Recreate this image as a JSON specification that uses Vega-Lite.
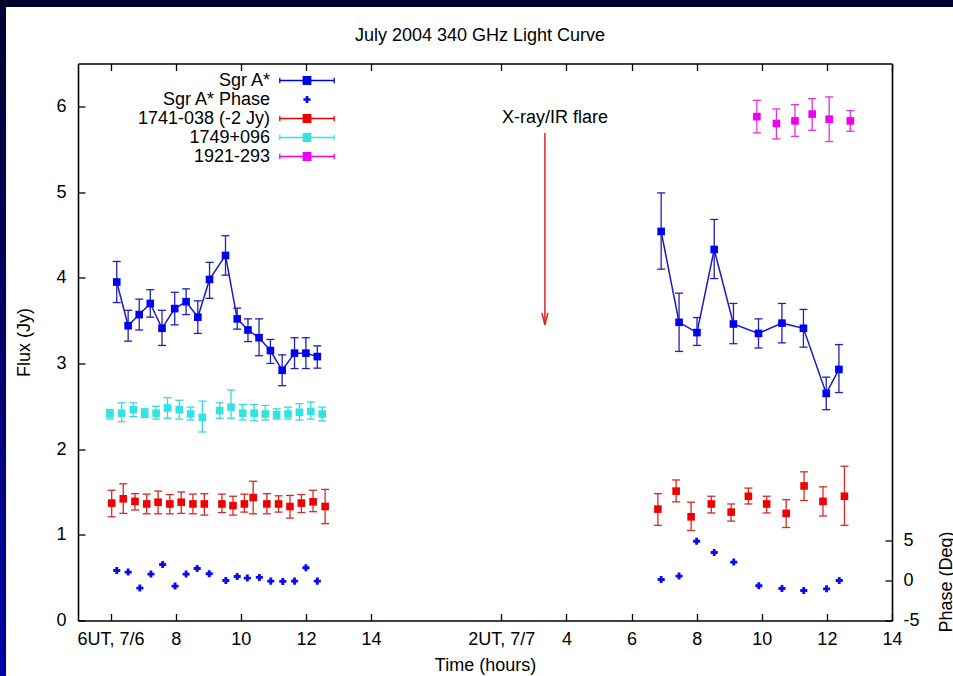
{
  "$schema": "https://vega.github.io/schema/vega-lite/v6.json",
  "width": 814,
  "height": 557,
  "autosize": {"type": "none"},
  "padding": {"left": 78, "top": 63.5, "right": 61, "bottom": 55.5},
  "background": "white",
  "title": {"text": "July 2004 340 GHz Light Curve", "font": "Liberation Sans", "fontSize": 18, "fontWeight": "normal", "color": "black", "anchor": "middle", "frame": "group", "baseline": "alphabetic", "offset": -64, "dx": -5, "zindex": 1},
  "datasets": {
    "flux": [
      {"series": "Sgr A*", "day": 1, "t": 6.19, "flux": 3.95, "lo": 3.71, "hi": 4.19},
      {"series": "Sgr A*", "day": 1, "t": 6.54, "flux": 3.44, "lo": 3.26, "hi": 3.62},
      {"series": "Sgr A*", "day": 1, "t": 6.88, "flux": 3.57, "lo": 3.39, "hi": 3.75},
      {"series": "Sgr A*", "day": 1, "t": 7.22, "flux": 3.70, "lo": 3.54, "hi": 3.86},
      {"series": "Sgr A*", "day": 1, "t": 7.58, "flux": 3.41, "lo": 3.21, "hi": 3.62},
      {"series": "Sgr A*", "day": 1, "t": 7.97, "flux": 3.64, "lo": 3.45, "hi": 3.83},
      {"series": "Sgr A*", "day": 1, "t": 8.32, "flux": 3.72, "lo": 3.57, "hi": 3.87},
      {"series": "Sgr A*", "day": 1, "t": 8.68, "flux": 3.54, "lo": 3.35, "hi": 3.73},
      {"series": "Sgr A*", "day": 1, "t": 9.04, "flux": 3.98, "lo": 3.76, "hi": 4.18},
      {"series": "Sgr A*", "day": 1, "t": 9.53, "flux": 4.26, "lo": 4.03, "hi": 4.49},
      {"series": "Sgr A*", "day": 1, "t": 9.89, "flux": 3.52, "lo": 3.40, "hi": 3.645},
      {"series": "Sgr A*", "day": 1, "t": 10.22, "flux": 3.39, "lo": 3.255, "hi": 3.52},
      {"series": "Sgr A*", "day": 1, "t": 10.56, "flux": 3.30, "lo": 3.09, "hi": 3.52},
      {"series": "Sgr A*", "day": 1, "t": 10.91, "flux": 3.15, "lo": 3.00, "hi": 3.28},
      {"series": "Sgr A*", "day": 1, "t": 11.27, "flux": 2.92, "lo": 2.74, "hi": 3.10},
      {"series": "Sgr A*", "day": 1, "t": 11.65, "flux": 3.12, "lo": 2.94, "hi": 3.30},
      {"series": "Sgr A*", "day": 1, "t": 12.0, "flux": 3.12, "lo": 2.94, "hi": 3.30},
      {"series": "Sgr A*", "day": 1, "t": 12.35, "flux": 3.08, "lo": 2.945, "hi": 3.205},
      {"series": "Sgr A*", "day": 2, "t": 22.91, "flux": 4.54, "lo": 4.10, "hi": 4.99},
      {"series": "Sgr A*", "day": 2, "t": 23.46, "flux": 3.48, "lo": 3.14, "hi": 3.82},
      {"series": "Sgr A*", "day": 2, "t": 24.01, "flux": 3.36, "lo": 3.21, "hi": 3.535},
      {"series": "Sgr A*", "day": 2, "t": 24.54, "flux": 4.33, "lo": 3.99, "hi": 4.68},
      {"series": "Sgr A*", "day": 2, "t": 25.13, "flux": 3.46, "lo": 3.23, "hi": 3.70},
      {"series": "Sgr A*", "day": 2, "t": 25.90, "flux": 3.35, "lo": 3.18, "hi": 3.52},
      {"series": "Sgr A*", "day": 2, "t": 26.62, "flux": 3.47, "lo": 3.24, "hi": 3.70},
      {"series": "Sgr A*", "day": 2, "t": 27.28, "flux": 3.41, "lo": 3.19, "hi": 3.63},
      {"series": "Sgr A*", "day": 2, "t": 27.98, "flux": 2.65, "lo": 2.46, "hi": 2.84},
      {"series": "Sgr A*", "day": 2, "t": 28.37, "flux": 2.93, "lo": 2.66, "hi": 3.22},
      {"series": "1741-038 (-2 Jy)", "day": 1, "t": 6.035, "flux": 1.37, "lo": 1.21, "hi": 1.52},
      {"series": "1741-038 (-2 Jy)", "day": 1, "t": 6.39, "flux": 1.42, "lo": 1.25, "hi": 1.595},
      {"series": "1741-038 (-2 Jy)", "day": 1, "t": 6.75, "flux": 1.39, "lo": 1.29, "hi": 1.48},
      {"series": "1741-038 (-2 Jy)", "day": 1, "t": 7.11, "flux": 1.36, "lo": 1.245, "hi": 1.475},
      {"series": "1741-038 (-2 Jy)", "day": 1, "t": 7.46, "flux": 1.38, "lo": 1.245, "hi": 1.51},
      {"series": "1741-038 (-2 Jy)", "day": 1, "t": 7.82, "flux": 1.36, "lo": 1.245, "hi": 1.47},
      {"series": "1741-038 (-2 Jy)", "day": 1, "t": 8.17, "flux": 1.38, "lo": 1.25, "hi": 1.50},
      {"series": "1741-038 (-2 Jy)", "day": 1, "t": 8.53, "flux": 1.36, "lo": 1.245, "hi": 1.475},
      {"series": "1741-038 (-2 Jy)", "day": 1, "t": 8.88, "flux": 1.36, "lo": 1.23, "hi": 1.48},
      {"series": "1741-038 (-2 Jy)", "day": 1, "t": 9.42, "flux": 1.36, "lo": 1.26, "hi": 1.475},
      {"series": "1741-038 (-2 Jy)", "day": 1, "t": 9.76, "flux": 1.34, "lo": 1.23, "hi": 1.45},
      {"series": "1741-038 (-2 Jy)", "day": 1, "t": 10.11, "flux": 1.36, "lo": 1.265, "hi": 1.475},
      {"series": "1741-038 (-2 Jy)", "day": 1, "t": 10.38, "flux": 1.435, "lo": 1.245, "hi": 1.625},
      {"series": "1741-038 (-2 Jy)", "day": 1, "t": 10.80, "flux": 1.36, "lo": 1.245, "hi": 1.48},
      {"series": "1741-038 (-2 Jy)", "day": 1, "t": 11.16, "flux": 1.36, "lo": 1.265, "hi": 1.455},
      {"series": "1741-038 (-2 Jy)", "day": 1, "t": 11.51, "flux": 1.33, "lo": 1.195, "hi": 1.46},
      {"series": "1741-038 (-2 Jy)", "day": 1, "t": 11.86, "flux": 1.37, "lo": 1.26, "hi": 1.47},
      {"series": "1741-038 (-2 Jy)", "day": 1, "t": 12.22, "flux": 1.385, "lo": 1.27, "hi": 1.52},
      {"series": "1741-038 (-2 Jy)", "day": 1, "t": 12.59, "flux": 1.33, "lo": 1.13, "hi": 1.53},
      {"series": "1741-038 (-2 Jy)", "day": 2, "t": 22.81, "flux": 1.30, "lo": 1.11, "hi": 1.48},
      {"series": "1741-038 (-2 Jy)", "day": 2, "t": 23.37, "flux": 1.51, "lo": 1.385, "hi": 1.64},
      {"series": "1741-038 (-2 Jy)", "day": 2, "t": 23.83, "flux": 1.21, "lo": 1.05, "hi": 1.38},
      {"series": "1741-038 (-2 Jy)", "day": 2, "t": 24.45, "flux": 1.36, "lo": 1.255, "hi": 1.45},
      {"series": "1741-038 (-2 Jy)", "day": 2, "t": 25.06, "flux": 1.265, "lo": 1.16, "hi": 1.36},
      {"series": "1741-038 (-2 Jy)", "day": 2, "t": 25.59, "flux": 1.45, "lo": 1.36, "hi": 1.545},
      {"series": "1741-038 (-2 Jy)", "day": 2, "t": 26.15, "flux": 1.36, "lo": 1.255, "hi": 1.45},
      {"series": "1741-038 (-2 Jy)", "day": 2, "t": 26.75, "flux": 1.25, "lo": 1.085, "hi": 1.41},
      {"series": "1741-038 (-2 Jy)", "day": 2, "t": 27.30, "flux": 1.57, "lo": 1.40, "hi": 1.735},
      {"series": "1741-038 (-2 Jy)", "day": 2, "t": 27.88, "flux": 1.39, "lo": 1.22, "hi": 1.56},
      {"series": "1741-038 (-2 Jy)", "day": 2, "t": 28.54, "flux": 1.45, "lo": 1.11, "hi": 1.80},
      {"series": "1749+096", "day": 1, "t": 5.98, "flux": 2.41, "lo": 2.35, "hi": 2.46},
      {"series": "1749+096", "day": 1, "t": 6.34, "flux": 2.42, "lo": 2.32, "hi": 2.54},
      {"series": "1749+096", "day": 1, "t": 6.70, "flux": 2.46, "lo": 2.38, "hi": 2.54},
      {"series": "1749+096", "day": 1, "t": 7.05, "flux": 2.42, "lo": 2.37, "hi": 2.47},
      {"series": "1749+096", "day": 1, "t": 7.40, "flux": 2.42, "lo": 2.35, "hi": 2.50},
      {"series": "1749+096", "day": 1, "t": 7.75, "flux": 2.48, "lo": 2.36, "hi": 2.60},
      {"series": "1749+096", "day": 1, "t": 8.11, "flux": 2.46, "lo": 2.35, "hi": 2.57},
      {"series": "1749+096", "day": 1, "t": 8.46, "flux": 2.41, "lo": 2.34, "hi": 2.49},
      {"series": "1749+096", "day": 1, "t": 8.82, "flux": 2.37, "lo": 2.20, "hi": 2.56},
      {"series": "1749+096", "day": 1, "t": 9.35, "flux": 2.45, "lo": 2.36, "hi": 2.54},
      {"series": "1749+096", "day": 1, "t": 9.70, "flux": 2.49, "lo": 2.36, "hi": 2.69},
      {"series": "1749+096", "day": 1, "t": 10.06, "flux": 2.42, "lo": 2.34, "hi": 2.52},
      {"series": "1749+096", "day": 1, "t": 10.41, "flux": 2.42, "lo": 2.33, "hi": 2.52},
      {"series": "1749+096", "day": 1, "t": 10.75, "flux": 2.41, "lo": 2.34, "hi": 2.51},
      {"series": "1749+096", "day": 1, "t": 11.10, "flux": 2.40, "lo": 2.35, "hi": 2.47},
      {"series": "1749+096", "day": 1, "t": 11.45, "flux": 2.41, "lo": 2.35, "hi": 2.49},
      {"series": "1749+096", "day": 1, "t": 11.80, "flux": 2.43, "lo": 2.34, "hi": 2.53},
      {"series": "1749+096", "day": 1, "t": 12.15, "flux": 2.44, "lo": 2.35, "hi": 2.55},
      {"series": "1749+096", "day": 1, "t": 12.50, "flux": 2.41, "lo": 2.33, "hi": 2.49},
      {"series": "1921-293", "day": 2, "t": 25.85, "flux": 5.88, "lo": 5.69, "hi": 6.07},
      {"series": "1921-293", "day": 2, "t": 26.45, "flux": 5.80, "lo": 5.62, "hi": 5.97},
      {"series": "1921-293", "day": 2, "t": 27.02, "flux": 5.83, "lo": 5.65, "hi": 6.02},
      {"series": "1921-293", "day": 2, "t": 27.55, "flux": 5.91, "lo": 5.72, "hi": 6.09},
      {"series": "1921-293", "day": 2, "t": 28.07, "flux": 5.85, "lo": 5.59, "hi": 6.11},
      {"series": "1921-293", "day": 2, "t": 28.72, "flux": 5.83, "lo": 5.71, "hi": 5.95}
    ],
    "phase": [
      {"series": "Sgr A* Phase", "t": 6.19, "phase": 1.25},
      {"series": "Sgr A* Phase", "t": 6.54, "phase": 1.05},
      {"series": "Sgr A* Phase", "t": 6.90, "phase": -0.95},
      {"series": "Sgr A* Phase", "t": 7.24, "phase": 0.8},
      {"series": "Sgr A* Phase", "t": 7.60, "phase": 2.0},
      {"series": "Sgr A* Phase", "t": 7.98, "phase": -0.7},
      {"series": "Sgr A* Phase", "t": 8.32, "phase": 0.8},
      {"series": "Sgr A* Phase", "t": 8.66, "phase": 1.5},
      {"series": "Sgr A* Phase", "t": 9.03, "phase": 0.84},
      {"series": "Sgr A* Phase", "t": 9.54, "phase": 0.0},
      {"series": "Sgr A* Phase", "t": 9.89, "phase": 0.5},
      {"series": "Sgr A* Phase", "t": 10.20, "phase": 0.3},
      {"series": "Sgr A* Phase", "t": 10.57, "phase": 0.38},
      {"series": "Sgr A* Phase", "t": 10.92, "phase": -0.08},
      {"series": "Sgr A* Phase", "t": 11.29, "phase": -0.12},
      {"series": "Sgr A* Phase", "t": 11.65, "phase": -0.08},
      {"series": "Sgr A* Phase", "t": 12.00, "phase": 1.59},
      {"series": "Sgr A* Phase", "t": 12.35, "phase": -0.08},
      {"series": "Sgr A* Phase", "t": 22.91, "phase": 0.12},
      {"series": "Sgr A* Phase", "t": 23.46, "phase": 0.55},
      {"series": "Sgr A* Phase", "t": 24.00, "phase": 4.9},
      {"series": "Sgr A* Phase", "t": 24.54, "phase": 3.5},
      {"series": "Sgr A* Phase", "t": 25.14, "phase": 2.3},
      {"series": "Sgr A* Phase", "t": 25.91, "phase": -0.66},
      {"series": "Sgr A* Phase", "t": 26.62, "phase": -1.0},
      {"series": "Sgr A* Phase", "t": 27.29, "phase": -1.25},
      {"series": "Sgr A* Phase", "t": 27.99, "phase": -1.04},
      {"series": "Sgr A* Phase", "t": 28.38, "phase": 0.0}
    ],
    "flare": [
      {"label": "X-ray/IR flare", "t": 19.34, "top": 5.69, "tip": 3.45, "tx": 19.65, "ty": 5.86}
    ]
  },
  "layer": [
    {
      "layer": [
        {
          "data": {"name": "flux"},
          "mark": {"type": "point", "filled": true, "opacity": 0},
          "encoding": {
            "x": {"field": "t", "type": "quantitative", "scale": {"domain": [5, 30], "nice": false, "zero": false}},
            "y": {"field": "flux", "type": "quantitative", "scale": {"domain": [0, 6.5], "nice": false, "zero": false}},
            "fill": {"field": "series", "type": "nominal",
              "scale": {"domain": ["Sgr A*", "Sgr A* Phase", "1741-038 (-2 Jy)", "1749+096", "1921-293"], "range": ["#0000f0", "#0a0af0", "#f00000", "#30e4e4", "#f000f0"]},
              "legend": {"title": null, "orient": "none", "legendX": 220, "legendY": 8, "padding": 0, "rowPadding": 1, "labelAlign": "right", "labelOffset": -46, "labelFont": "Liberation Sans", "labelFontSize": 18, "labelColor": "black", "labelLimit": 400, "symbolSize": 256, "symbolOpacity": 1, "symbolStrokeWidth": 0, "zindex": 1}},
            "shape": {"field": "series", "type": "nominal",
              "scale": {"domain": ["Sgr A*", "Sgr A* Phase", "1741-038 (-2 Jy)", "1749+096", "1921-293"],
                "range": [
                  "M-3.4,-0.08H3.4V0.08H-3.4ZM-3.48,-0.35H-3.32V0.35H-3.48ZM3.32,-0.35H3.48V0.35H3.32ZM-0.55,-0.55H0.55V0.55H-0.55Z",
                  "M-0.45,-0.17H-0.17V-0.45H0.17V-0.17H0.45V0.17H0.17V0.45H-0.17V0.17H-0.45Z",
                  "M-3.4,-0.08H3.4V0.08H-3.4ZM-3.48,-0.35H-3.32V0.35H-3.48ZM3.32,-0.35H3.48V0.35H3.32ZM-0.55,-0.55H0.55V0.55H-0.55Z",
                  "M-3.4,-0.08H3.4V0.08H-3.4ZM-3.48,-0.35H-3.32V0.35H-3.48ZM3.32,-0.35H3.48V0.35H3.32ZM-0.55,-0.55H0.55V0.55H-0.55Z",
                  "M-3.4,-0.08H3.4V0.08H-3.4ZM-3.48,-0.35H-3.32V0.35H-3.48ZM3.32,-0.35H3.48V0.35H3.32ZM-0.55,-0.55H0.55V0.55H-0.55Z"
                ]},
              "legend": {"title": null, "orient": "none", "legendX": 220, "legendY": 8, "padding": 0, "rowPadding": 1, "labelAlign": "right", "labelOffset": -46, "labelFont": "Liberation Sans", "labelFontSize": 18, "labelColor": "black", "labelLimit": 400, "symbolSize": 256, "symbolOpacity": 1, "symbolStrokeWidth": 0, "zindex": 1}}
          }
        },
        {
          "data": {"values": [{}]},
          "mark": {"type": "rect", "fill": "#00002e"},
          "encoding": {
            "x": {"datum": 2.5, "type": "quantitative"},
            "x2": {"datum": 32},
            "y": {"datum": 7.3, "type": "quantitative"},
            "y2": {"datum": 7.16}
          }
        },
        {
          "data": {"values": [{}]},
          "mark": {"type": "rect", "fill": {"x1": 0, "y1": 0, "x2": 0, "y2": 1, "gradient": "linear", "stops": [{"offset": 0, "color": "#00002e"}, {"offset": 1, "color": "#0000a8"}]}},
          "encoding": {
            "x": {"datum": 2.5, "type": "quantitative"},
            "x2": {"datum": 2.79},
            "y": {"datum": 7.3, "type": "quantitative"},
            "y2": {"datum": -0.7}
          }
        },
        {
          "data": {"name": "flux"},
          "mark": {"type": "rule", "strokeWidth": 1.3},
          "encoding": {
            "x": {"field": "t", "type": "quantitative"},
            "y": {"field": "lo", "type": "quantitative"},
            "y2": {"field": "hi"},
            "stroke": {"field": "series", "type": "nominal", "scale": {"domain": ["Sgr A*", "1741-038 (-2 Jy)", "1749+096", "1921-293"], "range": ["#2020b4", "#d82828", "#38d8d8", "#e030e0"]}, "legend": null}
          }
        },
        {
          "data": {"name": "flux"},
          "mark": {"type": "point", "shape": "stroke", "size": 64, "filled": false, "strokeWidth": 1.3, "opacity": 1},
          "encoding": {
            "x": {"field": "t", "type": "quantitative"},
            "y": {"field": "lo", "type": "quantitative"},
            "stroke": {"field": "series", "type": "nominal", "legend": null}
          }
        },
        {
          "data": {"name": "flux"},
          "mark": {"type": "point", "shape": "stroke", "size": 64, "filled": false, "strokeWidth": 1.3, "opacity": 1},
          "encoding": {
            "x": {"field": "t", "type": "quantitative"},
            "y": {"field": "hi", "type": "quantitative"},
            "stroke": {"field": "series", "type": "nominal", "legend": null}
          }
        },
        {
          "data": {"name": "flux"},
          "transform": [{"filter": "datum.series === 'Sgr A*'"}],
          "mark": {"type": "line", "color": "#1a1ac4", "strokeWidth": 1.5},
          "encoding": {
            "x": {"field": "t", "type": "quantitative"},
            "y": {"field": "flux", "type": "quantitative"},
            "detail": {"field": "day", "type": "nominal"}
          }
        },
        {
          "data": {"name": "flux"},
          "mark": {"type": "point", "shape": "square", "filled": true, "size": 58, "opacity": 1},
          "encoding": {
            "x": {"field": "t", "type": "quantitative",
              "axis": {"orient": "bottom", "zindex": 1, "values": [6, 8, 10, 12, 14, 18, 20, 22, 24, 26, 28, 30], "labelExpr": "datum.value == 6 ? '6UT, 7/6' : datum.value == 18 ? '2UT, 7/7' : (datum.value > 16 ? '' + (datum.value - 16) : '' + datum.value)", "title": "Time (hours)", "labelPadding": 17, "titlePadding": 8}},
            "y": {"field": "flux", "type": "quantitative",
              "axis": {"orient": "left", "zindex": 1, "values": [0, 1, 2, 3, 4, 5, 6], "labelExpr": "'' + datum.value", "title": "Flux (Jy)", "labelPadding": 19, "titlePadding": 22}},
            "fill": {"field": "series", "type": "nominal"}
          }
        },
        {
          "data": {"name": "flare"},
          "mark": {"type": "rule", "color": "#e02020", "strokeWidth": 1.5},
          "encoding": {
            "x": {"field": "t", "type": "quantitative"},
            "y": {"field": "top", "type": "quantitative"},
            "y2": {"field": "tip"}
          }
        },
        {
          "data": {"name": "flare"},
          "mark": {"type": "point", "shape": "M-1,-4L0,0L1,-4", "size": 36, "filled": false, "color": "#e02020", "strokeWidth": 1.5, "opacity": 1},
          "encoding": {
            "x": {"field": "t", "type": "quantitative"},
            "y": {"field": "tip", "type": "quantitative"}
          }
        },
        {
          "data": {"name": "flare"},
          "mark": {"type": "text", "font": "Liberation Sans", "fontSize": 18, "color": "black", "align": "center", "baseline": "middle"},
          "encoding": {
            "x": {"field": "tx", "type": "quantitative"},
            "y": {"field": "ty", "type": "quantitative"},
            "text": {"field": "label"}
          }
        }
      ]
    },
    {
      "data": {"name": "phase"},
      "mark": {"type": "point", "shape": "cross", "filled": true, "size": 50, "opacity": 1, "color": "#0a0af0"},
      "encoding": {
        "x": {"field": "t", "type": "quantitative",
          "axis": {"orient": "top", "zindex": 1, "values": [6, 8, 10, 12, 14, 18, 20, 22, 24, 26, 28, 30], "labels": false, "title": null}},
        "y": {"field": "phase", "type": "quantitative", "scale": {"domain": [-5, 64.6], "nice": false, "zero": false},
          "axis": {"orient": "right", "zindex": 1, "values": [-5, 0, 5], "labelExpr": "'' + datum.value", "title": "Phase (Deg)", "labelPadding": 18, "titleAngle": 270, "titleX": 54, "titleY": 518, "titleAlign": "center", "titleBaseline": "middle"}}
      }
    }
  ],
  "resolve": {"scale": {"y": "independent"}, "axis": {"x": "independent"}},
  "config": {
    "view": {"stroke": null},
    "font": "Liberation Sans",
    "axis": {"grid": false, "domainColor": "black", "domainWidth": 1.6, "tickColor": "black", "tickWidth": 1.3, "tickSize": -7, "labelFont": "Liberation Sans", "labelFontSize": 18, "labelColor": "black", "titleFont": "Liberation Sans", "titleFontSize": 18, "titleFontWeight": "normal", "titleColor": "black", "labelFlush": false, "labelOverlap": false, "labelBound": false}
  }
}
